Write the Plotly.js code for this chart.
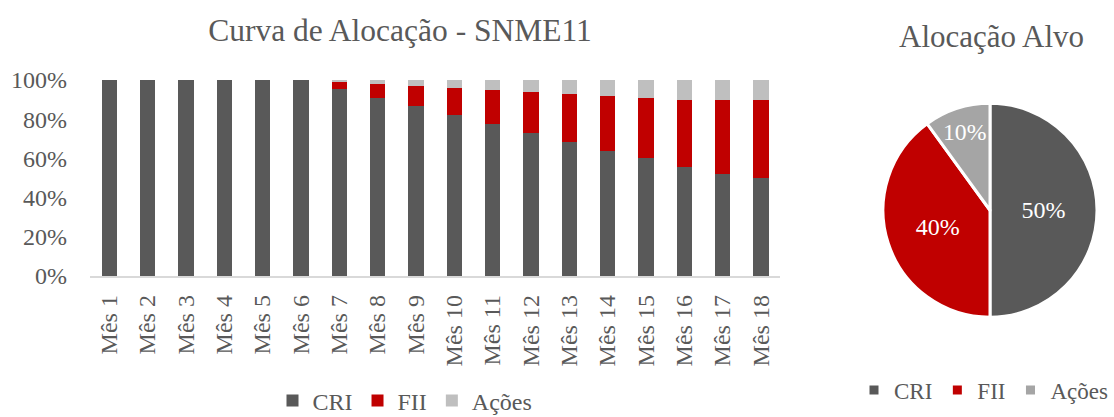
<!DOCTYPE html>
<html>
<head>
<meta charset="utf-8">
<script src="https://cdn.plot.ly/plotly-3.0.1.min.js"></script>
<style>html,body{margin:0;padding:0;background:#fff;overflow:hidden;}#chart{width:1114px;height:417px;}</style>
</head>
<body>
<div id="chart"></div>
<script>
const months = ["Mês 1","Mês 2","Mês 3","Mês 4","Mês 5","Mês 6","Mês 7","Mês 8","Mês 9","Mês 10","Mês 11","Mês 12","Mês 13","Mês 14","Mês 15","Mês 16","Mês 17","Mês 18"];
const cri   = [1,1,1,1,1,1,0.955,0.91,0.865,0.82,0.775,0.73,0.685,0.64,0.60,0.555,0.52,0.50];
const fii   = [0,0,0,0,0,0,0.033,0.068,0.105,0.137,0.172,0.207,0.242,0.278,0.308,0.344,0.379,0.40];
const acoes = [0,0,0,0,0,0,0.012,0.022,0.030,0.043,0.053,0.063,0.073,0.082,0.092,0.101,0.101,0.10];
const seriesNames = ["CRI","FII","Ações"];
const pieLabels = ["CRI","FII","Ações"];
const pieValues = [50,40,10];

const FONT = "Liberation Serif, Times New Roman, serif";
const TXT = "#595959";
const W = 1114, H = 417;

const barColors = ["#595959","#C00000","#BFBFBF"];
const pieColors = ["#595959","#C00000","#A5A5A5"];

const barData = [cri, fii, acoes].map((v, i) => ({
  type: "bar", x: months, y: v, name: seriesNames[i],
  marker: {color: barColors[i], line: {width: 0}},
  legend: "legend", hoverinfo: "x+y+name"
}));

const pie = {
  type: "pie", labels: pieLabels, values: pieValues,
  sort: false, direction: "clockwise", rotation: 0,
  marker: {colors: pieColors, line: {color: "#ffffff", width: 3}},
  textinfo: "percent", textposition: "inside", insidetextorientation: "horizontal",
  textfont: {family: FONT, size: 24, color: "#ffffff"},
  domain: {x: [883/W, 1097/W], y: [1-317.5/H, 1-103/H]},
  legend: "legend2", showlegend: true
};

const layout = {
  width: W, height: H,
  margin: {l: 0, r: 0, t: 0, b: 0, autoexpand: false},
  paper_bgcolor: "#ffffff", plot_bgcolor: "#ffffff",
  font: {family: FONT, color: TXT, size: 24},
  title: {text: "Curva de Alocação - SNME11", x: 400/W, xanchor: "center", y: 1-30/H, yanchor: "middle",
          font: {family: FONT, size: 31.5, color: TXT}},
  barmode: "stack", bargap: 0.6,
  xaxis: {domain: [90/W, 780/W], showline: true, linecolor: "#D9D9D9", linewidth: 1.5,
          tickangle: -90, ticks: "", showgrid: false, zeroline: false,
          tickfont: {family: FONT, size: 24, color: TXT}, ticklabelstandoff: 8},
  yaxis: {domain: [1-276/H, 1-80/H], range: [0, 1], tickvals: [0,0.2,0.4,0.6,0.8,1],
          ticktext: ["0%","20%","40%","60%","80%","100%"], showgrid: false, zeroline: false,
          showline: false, ticks: "", ticklabelstandoff: 22,
          tickfont: {family: FONT, size: 24, color: TXT}},
  legend: {orientation: "h", x: 405/W, xanchor: "center", y: 1-401/H, yanchor: "middle",
           font: {family: FONT, size: 24, color: TXT}, traceorder: "normal", bgcolor: "rgba(0,0,0,0)"},
  legend2: {orientation: "h", x: 1113/W, xanchor: "right", y: 1-390/H, yanchor: "middle",
            font: {family: FONT, size: 23, color: TXT}, traceorder: "normal", bgcolor: "rgba(0,0,0,0)"},
  annotations: [{text: "Alocação Alvo", xref: "paper", yref: "paper", x: 991/W, y: 1-36/H,
                 xanchor: "center", yanchor: "middle", showarrow: false,
                 font: {family: FONT, size: 31, color: TXT}}]
};

Plotly.newPlot("chart", barData.concat([pie]), layout, {displayModeBar: false, staticPlot: true});
</script>
</body>
</html>
